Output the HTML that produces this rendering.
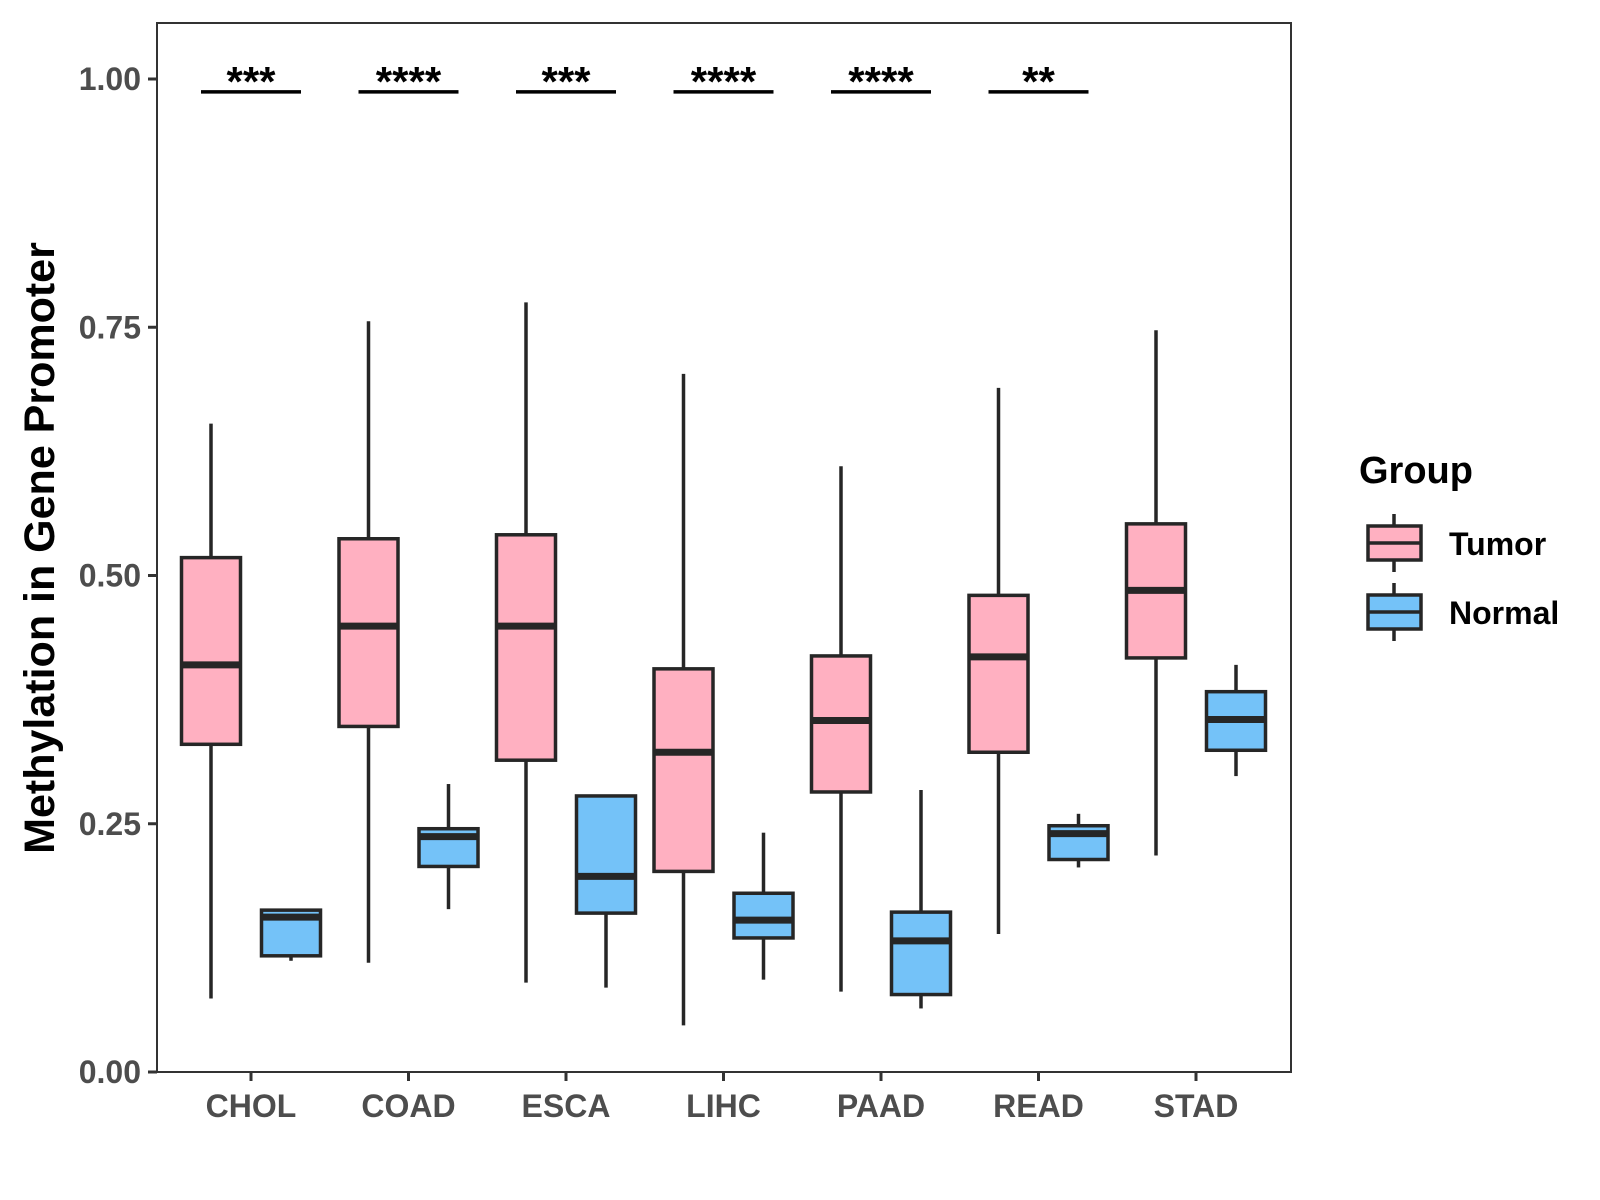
<!DOCTYPE html>
<html><head><meta charset="utf-8"><style>
html,body{margin:0;padding:0;background:#fff;}
svg{display:block;font-family:"Liberation Sans",Arial,sans-serif;}
</style></head><body>
<svg id="chart" width="1600" height="1200" viewBox="0 0 1600 1200">
<rect x="0" y="0" width="1600" height="1200" fill="#fff"/>
<g id="plot"></g>
<text transform="translate(54,548) rotate(-90)" text-anchor="middle" font-size="43" font-weight="bold" fill="#000">Methylation in Gene Promoter</text>
<g>
<text x="1359" y="483" font-size="38" font-weight="bold" fill="#000">Group</text>
<g>
<line x1="1394" y1="514" x2="1394" y2="572" stroke="#262626" stroke-width="3.5"/>
<rect x="1368" y="526" width="53" height="34" fill="#FFB0C1" stroke="#262626" stroke-width="3.5"/>
<line x1="1368" y1="543" x2="1421" y2="543" stroke="#262626" stroke-width="3.5"/>
<text x="1449" y="555" font-size="32" font-weight="bold" fill="#000">Tumor</text>
</g>
<g>
<line x1="1394" y1="583" x2="1394" y2="641" stroke="#262626" stroke-width="3.5"/>
<rect x="1368" y="595" width="53" height="34" fill="#74C2F8" stroke="#262626" stroke-width="3.5"/>
<line x1="1368" y1="612" x2="1421" y2="612" stroke="#262626" stroke-width="3.5"/>
<text x="1449" y="624" font-size="32" font-weight="bold" fill="#000">Normal</text>
</g>
</g>
</svg>
<script>
const categories = ["CHOL","COAD","ESCA","LIHC","PAAD","READ","STAD"];
// [whiskerLow, q1, median, q3, whiskerHigh]
const tumorStats = [
 [0.074,0.330,0.410,0.518,0.653],
 [0.110,0.348,0.449,0.537,0.756],
 [0.090,0.314,0.449,0.541,0.775],
 [0.047,0.202,0.322,0.406,0.703],
 [0.081,0.282,0.354,0.419,0.610],
 [0.139,0.322,0.418,0.480,0.689],
 [0.218,0.417,0.485,0.552,0.747]
];
const normalStats = [
 [0.112,0.117,0.156,0.163,0.163],
 [0.164,0.207,0.237,0.245,0.290],
 [0.085,0.160,0.197,0.278,0.278],
 [0.093,0.135,0.153,0.180,0.241],
 [0.064,0.078,0.132,0.161,0.284],
 [0.206,0.214,0.240,0.248,0.260],
 [0.298,0.324,0.355,0.383,0.410]
];
const sigLabels = ["***","****","***","****","****","**"];
const sigLevel = 0.987;
const yTicks = [0, 0.25, 0.5, 0.75, 1.0];
const yTickLabels = ["0.00","0.25","0.50","0.75","1.00"];

const NS="http://www.w3.org/2000/svg";
const L=157,R=1291,T=23,B=1072;
const y0=1072,y1=79;
function ys(v){return y0-(y0-y1)*v;}
function xs(i){return 251+i*157.5;}
const g=document.getElementById('plot');
function mk(tag,attrs,parent){const e=document.createElementNS(NS,tag);for(const k in attrs)e.setAttribute(k,attrs[k]);(parent||g).appendChild(e);return e;}

const panel=mk('rect',{x:L,y:T,width:R-L,height:B-T,fill:'none',stroke:'#333',"stroke-width":2});



yTicks.forEach((v,i)=>{
  const t=mk('line',{x1:L-9,x2:L,y1:ys(v),y2:ys(v),stroke:'#333',"stroke-width":3});
  
  
  const tx=mk('text',{x:L-16,y:ys(v)+11,"text-anchor":"end","font-size":32,"font-weight":"bold",fill:"#4d4d4d"});
  tx.textContent=yTickLabels[i];
  
  
});
categories.forEach((c,i)=>{
  const t=mk('line',{x1:xs(i),x2:xs(i),y1:B,y2:B+9,stroke:'#333',"stroke-width":3});
  
  
  const tx=mk('text',{x:xs(i),y:B+45,"text-anchor":"middle","font-size":32,"font-weight":"bold",fill:"#4d4d4d"});
  tx.textContent=c;
  
  
});
function box(cx,s,fill,name){
  const bg=mk('g',{});
  
  
  const w=59;
  mk('line',{x1:cx,x2:cx,y1:ys(s[0]),y2:ys(s[1]),stroke:'#262626',"stroke-width":3.5},bg);
  mk('line',{x1:cx,x2:cx,y1:ys(s[3]),y2:ys(s[4]),stroke:'#262626',"stroke-width":3.5},bg);
  mk('rect',{x:cx-w/2,y:ys(s[3]),width:w,height:ys(s[1])-ys(s[3]),fill:fill,stroke:'#262626',"stroke-width":3.5},bg);
  mk('line',{x1:cx-w/2,x2:cx+w/2,y1:ys(s[2]),y2:ys(s[2]),stroke:'#262626',"stroke-width":7},bg);
}
categories.forEach((c,i)=>{
  box(xs(i)-40,tumorStats[i],'#FFB0C1','box-tumor-'+c.toLowerCase());
  box(xs(i)+40,normalStats[i],'#74C2F8','box-normal-'+c.toLowerCase());
});
sigLabels.forEach((s,i)=>{
  const ln=mk('line',{x1:xs(i)-50,x2:xs(i)+50,y1:ys(sigLevel),y2:ys(sigLevel),stroke:'#000',"stroke-width":3.5});
  
  
  const tx=mk('text',{x:xs(i),y:ys(sigLevel)+4,"text-anchor":"middle","font-size":42,"font-weight":"bold",fill:"#000"});
  tx.textContent=s;
  
  
});
</script>
</body></html>
